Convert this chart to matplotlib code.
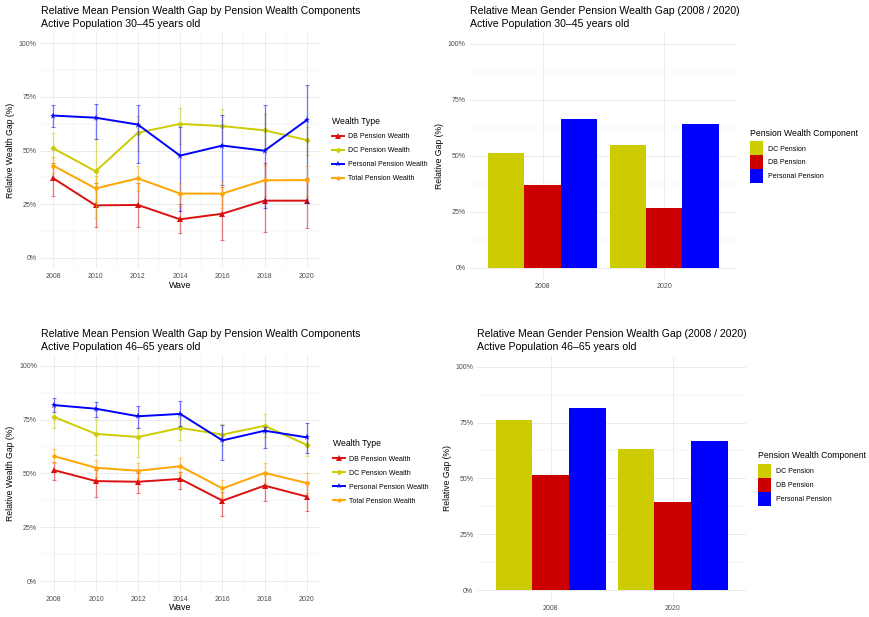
import matplotlib
matplotlib.use("agg")
import matplotlib.pyplot as plt
from matplotlib.lines import Line2D
from matplotlib.patches import Patch
import numpy as np

plt.rcParams["font.family"] = ["Liberation Sans", "DejaVu Sans"]

W, H = 870, 617

waves = [2008, 2010, 2012, 2014, 2016, 2018, 2020]
wealth_types = ["DB Pension Wealth", "DC Pension Wealth",
                "Personal Pension Wealth", "Total Pension Wealth"]
line_colors = ["#DD1010", "#CCCC00", "#0000FF", "#FFA500"]
line_markers = ["^", "D", "*", "o"]

# relative gap (%) with lower / upper CI, age 30-45
young_db = [37.0, 24.4, 24.6, 17.9, 20.5, 26.6, 26.6]
young_db_lo = [28.8, 14.5, 14.5, 11.4, 8.2, 11.8, 14.0]
young_db_hi = [44.0, 35.0, 35.0, 25.0, 33.0, 44.0, 37.0]
young_dc = [51.0, 40.3, 58.3, 62.4, 61.4, 59.4, 54.9]
young_dc_lo = [44.0, 18.4, 50.0, 53.0, 53.0, 51.0, 48.0]
young_dc_hi = [58.3, 55.2, 66.0, 69.7, 69.4, 67.0, 61.0]
young_pp = [66.3, 65.3, 62.1, 47.6, 52.3, 49.9, 64.2]
young_pp_lo = [61.1, 55.2, 44.0, 21.9, 33.9, 23.0, 25.4]
young_pp_hi = [71.2, 71.6, 71.2, 60.8, 66.6, 71.1, 80.5]
young_tot = [42.9, 32.3, 37.0, 29.9, 29.9, 36.1, 36.2]
young_tot_lo = [39.3, 26.0, 31.0, 24.0, 23.0, 29.0, 29.0]
young_tot_hi = [47.1, 38.0, 43.0, 35.0, 36.0, 43.0, 43.0]

# relative gap (%) with lower / upper CI, age 46-65
old_db = [51.5, 46.4, 46.1, 47.4, 37.3, 44.3, 39.2]
old_db_lo = [46.9, 39.2, 40.7, 42.7, 30.2, 37.3, 32.5]
old_db_hi = [55.4, 51.5, 50.0, 50.8, 41.5, 50.0, 46.1]
old_dc = [76.2, 68.3, 66.9, 71.1, 68.0, 72.1, 63.2]
old_dc_lo = [71.0, 58.5, 57.7, 65.5, 63.0, 67.0, 58.2]
old_dc_hi = [81.0, 75.2, 70.9, 76.3, 73.0, 77.4, 67.0]
old_pp = [81.7, 80.0, 76.5, 77.6, 65.3, 69.8, 66.7]
old_pp_lo = [78.6, 76.0, 70.9, 72.0, 56.2, 61.6, 59.3]
old_pp_hi = [84.8, 83.1, 81.4, 83.6, 72.4, 71.4, 73.5]
old_tot = [58.0, 52.6, 51.2, 53.3, 43.0, 50.2, 45.5]
old_tot_lo = [54.6, 48.5, 47.7, 49.2, 39.2, 45.4, 40.7]
old_tot_hi = [61.3, 56.2, 55.0, 57.3, 46.9, 55.0, 50.3]

bar_components = ["DC Pension", "DB Pension", "Personal Pension"]
bar_colors = ["#CCCC00", "#CC0000", "#0000FF"]
bar_years = ["2008", "2020"]

young = {
    "DB Pension Wealth": (young_db, young_db_lo, young_db_hi),
    "DC Pension Wealth": (young_dc, young_dc_lo, young_dc_hi),
    "Personal Pension Wealth": (young_pp, young_pp_lo, young_pp_hi),
    "Total Pension Wealth": (young_tot, young_tot_lo, young_tot_hi),
}
old = {
    "DB Pension Wealth": (old_db, old_db_lo, old_db_hi),
    "DC Pension Wealth": (old_dc, old_dc_lo, old_dc_hi),
    "Personal Pension Wealth": (old_pp, old_pp_lo, old_pp_hi),
    "Total Pension Wealth": (old_tot, old_tot_lo, old_tot_hi),
}

TICK_GREY = "#4d4d4d"
GRID = "#ebebeb"


def px_axes(fig, left, top, right, bottom):
    return fig.add_axes([left / W, 1 - bottom / H, (right - left) / W, (bottom - top) / H])


def minimal(ax):
    for s in ax.spines.values():
        s.set_visible(False)
    ax.tick_params(length=0, labelsize=5, colors=TICK_GREY, pad=3)
    ax.set_axisbelow(True)
    ax.grid(which="major", color=GRID, linewidth=0.7)
    ax.grid(which="minor", color=GRID, linewidth=0.35)
    ax.set_ylim(-0.05, 1.05)
    ax.set_yticks([0, 0.25, 0.5, 0.75, 1.0])
    ax.set_yticks([0.125, 0.375, 0.625, 0.875], minor=True)
    ax.set_yticklabels(["0%", "25%", "50%", "75%", "100%"])
    ax.tick_params(which="minor", length=0)


def fig_text(fig, x, y, s, **kw):
    fig.text(x / W, 1 - y / H, s, **kw)


def line_panel(fig, box, data, title, ylab_x, xlab_y, legend_xy):
    ax = px_axes(fig, *box)
    minimal(ax)
    for name, color, marker in zip(wealth_types, line_colors, line_markers):
        mean, lo, hi = (np.array(v) / 100 for v in data[name])
        ax.errorbar(waves, mean, yerr=[mean - lo, hi - mean], fmt="none",
                    ecolor=color, alpha=0.5, elinewidth=1.0, capsize=1.2, capthick=0.8)
        ms = 4.5 if marker in ("^", "*") else 3.2
        ax.plot(waves, mean, color=color, lw=1.4, marker=marker, ms=ms,
                markeredgewidth=0)
    ax.set_xlim(2007.4, 2020.6)
    ax.set_xticks(waves)
    ax.set_xticks(range(2009, 2020, 2), minor=True)
    left, top, right, bottom = box
    fig_text(fig, left, top - 14.8, title, fontsize=7.6, va="center", ha="left",
             linespacing=1.38)
    fig_text(fig, ylab_x, (top + bottom) / 2, "Relative Wealth Gap (%)", fontsize=6.2,
             rotation=90, va="center", ha="center")
    fig_text(fig, (left + right) / 2, xlab_y, "Wave", fontsize=6.4, va="center", ha="center")

    lx, ly = legend_xy
    fig_text(fig, lx, ly, "Wealth Type", fontsize=6.2, va="center", ha="left")
    handles = [Line2D([], [], color=c, lw=1.4, marker=m, ms=4 if m in ("^", "*") else 3,
                      markeredgewidth=0) for c, m in zip(line_colors, line_markers)]
    ax.legend(handles, wealth_types, loc="upper left",
              bbox_to_anchor=(lx / W, 1 - (ly + 12.5) / H),
              bbox_transform=fig.transFigure, frameon=False, fontsize=5,
              handlelength=1.7, handletextpad=0.6, labelspacing=1.0,
              borderpad=0, borderaxespad=0)
    return ax


def bar_panel(fig, box, data, title, ylab_x, legend_xy):
    ax = px_axes(fig, *box)
    minimal(ax)
    keys = ["DC Pension Wealth", "DB Pension Wealth", "Personal Pension Wealth"]
    width = 0.3
    x = np.arange(1, len(bar_years) + 1)
    for i, (k, c) in enumerate(zip(keys, bar_colors)):
        vals = np.array([data[k][0][0], data[k][0][-1]]) / 100
        ax.bar(x + (i - 1) * width, vals, width=width, color=c, edgecolor="none")
    ax.set_xlim(0.4, 2.6)
    ax.set_xticks(x)
    ax.set_xticklabels(bar_years)
    ax.grid(which="major", axis="x", color=GRID, linewidth=0.7)
    left, top, right, bottom = box
    fig_text(fig, left, top - 14.8, title, fontsize=7.6, va="center", ha="left",
             linespacing=1.38)
    fig_text(fig, ylab_x, (top + bottom) / 2, "Relative Gap (%)", fontsize=6.2,
             rotation=90, va="center", ha="center")

    lx, ly = legend_xy
    fig_text(fig, lx, ly, "Pension Wealth Component", fontsize=6.2, va="center", ha="left")
    handles = [Patch(facecolor=c) for c in bar_colors]
    ax.legend(handles, bar_components, loc="upper left",
              bbox_to_anchor=(lx / W, 1 - (ly + 8.5) / H),
              bbox_transform=fig.transFigure, frameon=False, fontsize=5,
              handlelength=1.9, handleheight=2.7, handletextpad=0.75,
              labelspacing=0.0, borderpad=0, borderaxespad=0)
    return ax


fig = plt.figure(figsize=(W / 100, H / 100), dpi=100)

line_panel(fig, (40.7, 32.6, 319.4, 268.4), young,
           "Relative Mean Pension Wealth Gap by Pension Wealth Components\n"
           "Active Population 30\u201345 years old",
           11, 285.5, (332, 121))
line_panel(fig, (41.2, 354.9, 319.4, 591.8), old,
           "Relative Mean Pension Wealth Gap by Pension Wealth Components\n"
           "Active Population 46\u201365 years old",
           11, 607.5, (333, 443.3))
bar_panel(fig, (469.7, 32.5, 737.2, 278.9), young,
          "Relative Mean Gender Pension Wealth Gap (2008 / 2020)\n"
          "Active Population 30\u201345 years old",
          440, (750, 133))
bar_panel(fig, (477.5, 355.5, 745.9, 601.2), old,
          "Relative Mean Gender Pension Wealth Gap (2008 / 2020)\n"
          "Active Population 46\u201365 years old",
          448, (758, 455.7))

fig.savefig("out.png", dpi=100)
